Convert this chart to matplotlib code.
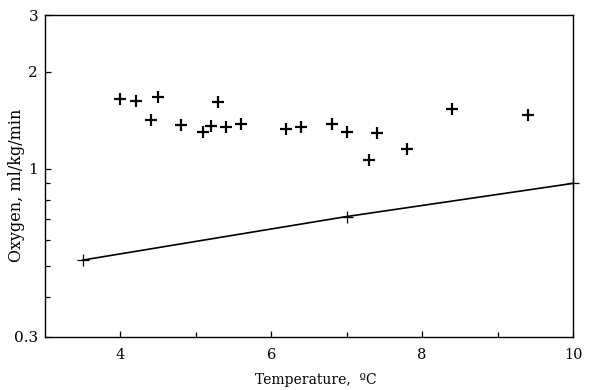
import numpy as np
import matplotlib
matplotlib.use('Agg')
import matplotlib.pyplot as plt
from matplotlib.ticker import FixedLocator, NullFormatter

# measured points
temp = [4.0, 4.2, 4.4, 4.5, 4.8, 5.1, 5.2, 5.3, 5.4, 5.6,
        6.2, 6.4, 6.8, 7.0, 7.3, 7.4, 7.8, 8.4, 9.4]
oxygen = [1.64, 1.62, 1.42, 1.67, 1.37, 1.30, 1.36, 1.61, 1.35, 1.38,
          1.33, 1.35, 1.38, 1.30, 1.06, 1.29, 1.15, 1.53, 1.47]

# fitted line
line_t = [3.5, 7.0, 10.0]
line_o = [0.52, 0.71, 0.90]

xticks = [4, 6, 8, 10]
xminor = [5, 7, 9]
yticks = [0.3, 1, 2, 3]
ytick_labels = ['0.3', '1', '2', '3']
yminor = [0.4, 0.5, 0.6, 0.7, 0.8, 0.9]

fig = plt.figure(figsize=(5.9, 3.9), dpi=100)
ax = fig.add_axes([45/590, 53/390, 528/590, 322/390])

ax.plot(temp, oxygen, linestyle='none', marker='+', color='black',
        markersize=9, markeredgewidth=1.6, clip_on=False)
ax.plot(line_t, line_o, color='black', linewidth=1.2, marker='+',
        markersize=8, markeredgewidth=0.9, clip_on=False)

ax.set_yscale('log')
ax.set_xlim(3, 10)
ax.set_ylim(0.3, 3)

ax.xaxis.set_major_locator(FixedLocator(xticks))
ax.xaxis.set_minor_locator(FixedLocator(xminor))
ax.set_xticklabels([str(t) for t in xticks], family='DejaVu Serif', fontsize=10.5)
ax.xaxis.set_minor_formatter(NullFormatter())

ax.yaxis.set_major_locator(FixedLocator(yticks))
ax.yaxis.set_minor_locator(FixedLocator(yminor))
ax.set_yticklabels(ytick_labels, family='DejaVu Serif', fontsize=11)
ax.yaxis.set_minor_formatter(NullFormatter())

ax.tick_params(axis='both', which='major', direction='in', length=4, width=0.9,
               top=False, right=False)
ax.tick_params(axis='both', which='minor', direction='in', length=3.5, width=0.9,
               top=False, right=False)
ax.tick_params(axis='x', which='major', pad=8)
ax.tick_params(axis='y', which='major', pad=5)

for s in ax.spines.values():
    s.set_linewidth(1.0)
    s.set_color('black')

fig.text(316/590, 1 - 380/390, 'Temperature,  ºC', family='DejaVu Serif',
         fontsize=10, ha='center', va='center')
fig.text(17/590, 1 - 185/390, 'Oxygen, ml/kg/min', family='DejaVu Serif',
         fontsize=11.5, ha='center', va='center', rotation=90)

fig.savefig('out.png', dpi=100)
